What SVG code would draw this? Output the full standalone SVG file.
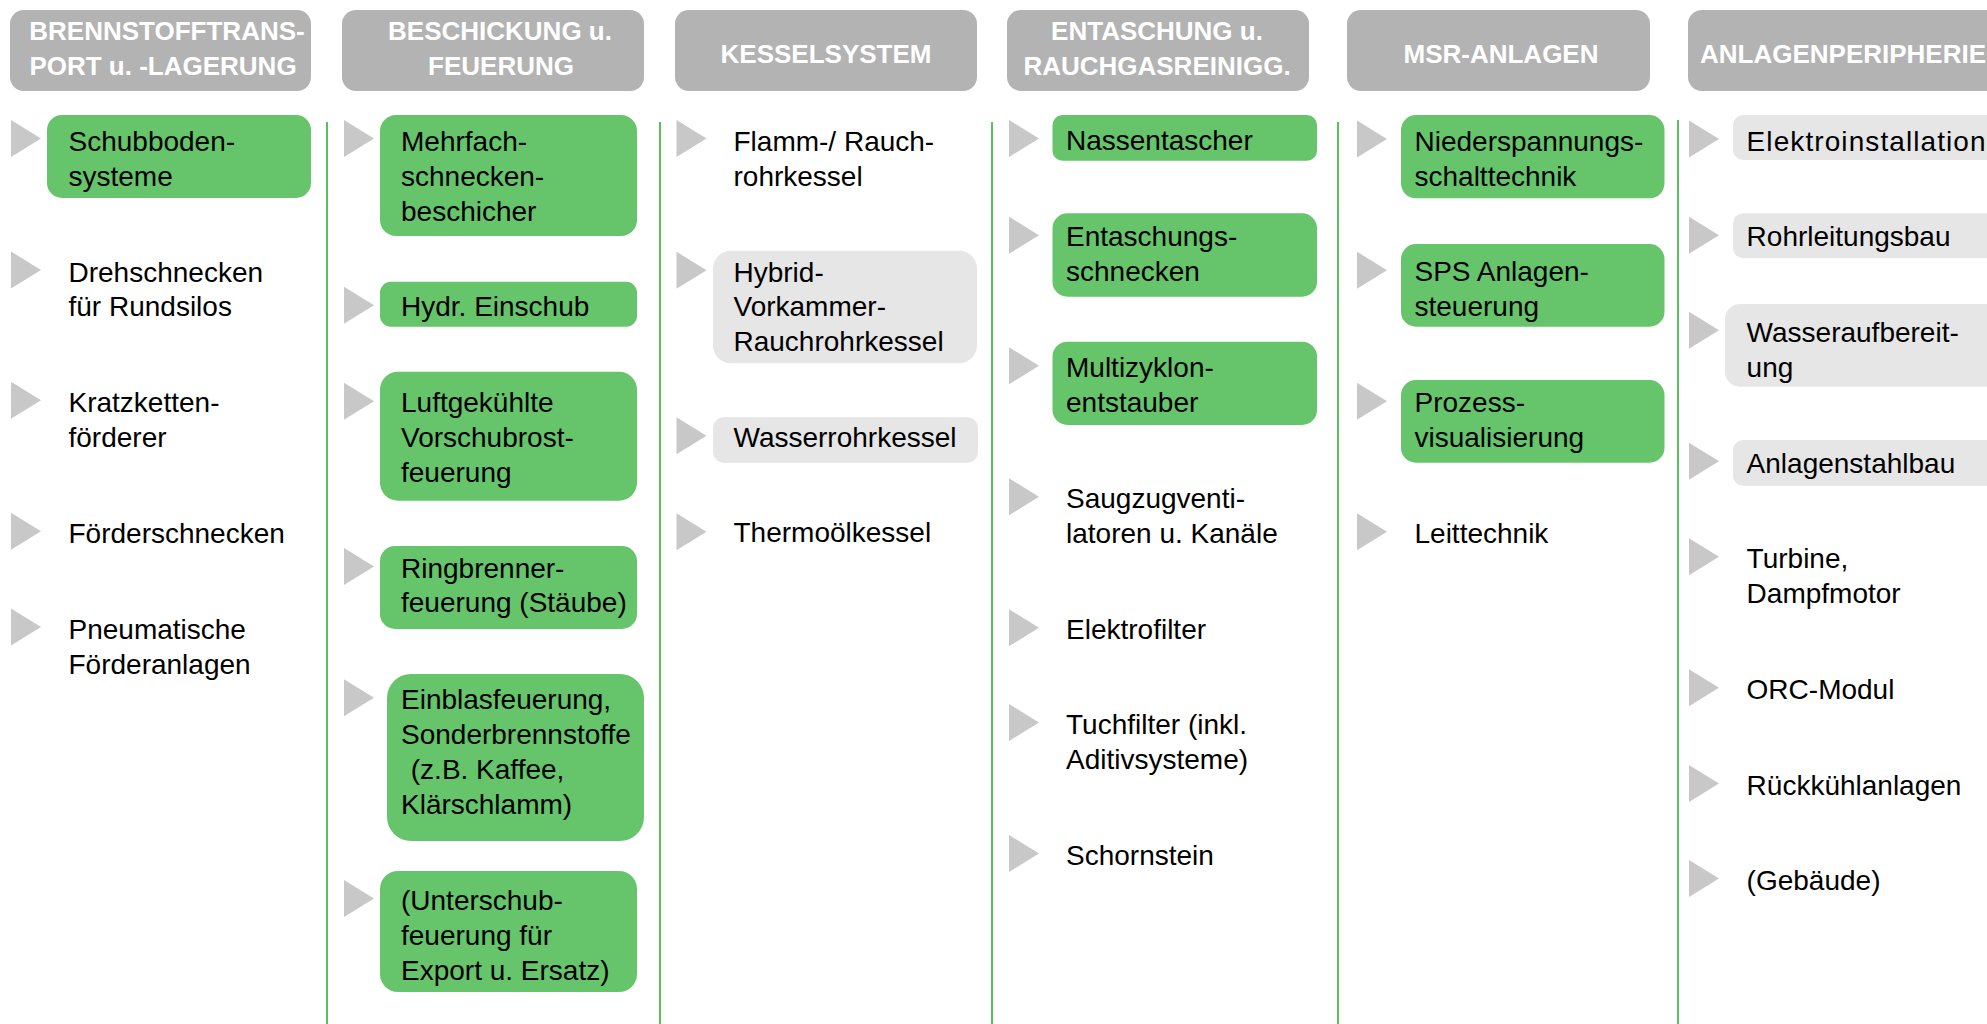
<svg xmlns="http://www.w3.org/2000/svg" xmlns:xlink="http://www.w3.org/1999/xlink" width="1987" height="1024" viewBox="0 0 1987 1024">
<style>
.hdr{fill:#b3b3b3}
.ht{font-family:"Liberation Sans",Arial,sans-serif;font-weight:bold;font-size:26px;fill:#ffffff;text-anchor:middle}
.t{font-family:"Liberation Sans",Arial,sans-serif;font-size:28px;fill:#000000}
.g{fill:#66c46a}
.l{fill:#e6e6e6}
.sep{stroke:#5cbf5c;stroke-width:2;fill:none}
.tri{fill:#c8c8c8}
</style>
<defs>
<path id="tri" class="tri" d="M0,0 L30,18.5 L0,37 Z"/>
</defs>
<rect width="1987" height="1024" fill="#ffffff"/>

<g id="headers">
<g id="h1"><rect class="hdr" x="10" y="10" width="301" height="81" rx="14"/>
<text class="ht"><tspan x="167" y="39.5">BRENNSTOFFTRANS-</tspan><tspan x="163" y="75">PORT u. -LAGERUNG</tspan></text></g>
<g id="h2"><rect class="hdr" x="342" y="10" width="302" height="81" rx="14"/>
<text class="ht"><tspan x="500" y="39.5">BESCHICKUNG u.</tspan><tspan x="501" y="75">FEUERUNG</tspan></text></g>
<g id="h3"><rect class="hdr" x="675" y="10" width="302" height="81" rx="14"/>
<text class="ht" x="826" y="63">KESSELSYSTEM</text></g>
<g id="h4"><rect class="hdr" x="1007" y="10" width="302" height="81" rx="14"/>
<text class="ht"><tspan x="1157" y="39.5">ENTASCHUNG u.</tspan><tspan x="1157" y="75">RAUCHGASREINIGG.</tspan></text></g>
<g id="h5"><rect class="hdr" x="1347" y="10" width="303" height="81" rx="14"/>
<text class="ht" x="1501" y="63">MSR-ANLAGEN</text></g>
<g id="h6"><rect class="hdr" x="1688" y="10" width="320" height="81" rx="14"/>
<text class="ht" x="1700" y="63" style="text-anchor:start">ANLAGENPERIPHERIE</text></g>
</g>

<g id="connectors">
<line class="sep" x1="327" y1="122" x2="327" y2="1024"/>
<line class="sep" x1="660" y1="122" x2="660" y2="1024"/>
<line class="sep" x1="992" y1="122" x2="992" y2="1024"/>
<line class="sep" x1="1338" y1="122" x2="1338" y2="1024"/>
<line class="sep" x1="1678" y1="120" x2="1678" y2="1024"/>
</g>

<!-- Column 1 -->
<g id="c1-schubboden"><use href="#tri" x="11" y="120"/><rect class="g" x="47" y="115" width="264" height="83" rx="15"/>
<text class="t"><tspan x="68.5" y="150.5">Schubboden-</tspan><tspan x="68.5" y="185.5">systeme</tspan></text></g>
<g id="c1-drehschnecken"><use href="#tri" x="11" y="251.5"/>
<text class="t"><tspan x="68.5" y="281.5">Drehschnecken</tspan><tspan x="68.5" y="316">für Rundsilos</tspan></text></g>
<g id="c1-kratzketten"><use href="#tri" x="11" y="381.7"/>
<text class="t"><tspan x="68.5" y="411.7">Kratzketten-</tspan><tspan x="68.5" y="446.7">förderer</tspan></text></g>
<g id="c1-foerderschnecken"><use href="#tri" x="11" y="512.7"/>
<text class="t" x="68.5" y="542.7">Förderschnecken</text></g>
<g id="c1-pneumatische"><use href="#tri" x="11" y="608.5"/>
<text class="t"><tspan x="68.5" y="638.5">Pneumatische</tspan><tspan x="68.5" y="673.5">Förderanlagen</tspan></text></g>

<!-- Column 2 -->
<g id="c2-mehrfach"><use href="#tri" x="344" y="120"/><rect class="g" x="380" y="115" width="257" height="121" rx="16"/>
<text class="t"><tspan x="401" y="150.5">Mehrfach-</tspan><tspan x="401" y="185.5">schnecken-</tspan><tspan x="401" y="220.5">beschicher</tspan></text></g>
<g id="c2-hydr"><use href="#tri" x="344" y="286.7"/><rect class="g" x="380" y="281.7" width="257" height="45" rx="11"/>
<text class="t" x="401" y="315.5">Hydr. Einschub</text></g>
<g id="c2-luft"><use href="#tri" x="344" y="382.7"/><rect class="g" x="380" y="371.7" width="257" height="129" rx="18"/>
<text class="t"><tspan x="401" y="412">Luftgekühlte</tspan><tspan x="401" y="447">Vorschubrost-</tspan><tspan x="401" y="482">feuerung</tspan></text></g>
<g id="c2-ring"><use href="#tri" x="344" y="548"/><rect class="g" x="380" y="546" width="257" height="83" rx="15"/>
<text class="t"><tspan x="401" y="577.5">Ringbrenner-</tspan><tspan x="401" y="612">feuerung (Stäube)</tspan></text></g>
<g id="c2-einblas"><use href="#tri" x="344" y="679.3"/><rect class="g" x="387" y="674" width="257" height="167" rx="24"/>
<text class="t"><tspan x="401" y="708.5">Einblasfeuerung,</tspan><tspan x="401" y="743.5">Sonderbrennstoffe</tspan><tspan x="403" y="778.5"> (z.B. Kaffee,</tspan><tspan x="401" y="813.5">Klärschlamm)</tspan></text></g>
<g id="c2-unterschub"><use href="#tri" x="344" y="880"/><rect class="g" x="380" y="871" width="257" height="121" rx="18"/>
<text class="t"><tspan x="401" y="910">(Unterschub-</tspan><tspan x="401" y="945">feuerung für</tspan><tspan x="401" y="980">Export u. Ersatz)</tspan></text></g>

<!-- Column 3 -->
<g id="c3-flamm"><use href="#tri" x="676.5" y="120"/>
<text class="t"><tspan x="733.5" y="150.5">Flamm-/ Rauch-</tspan><tspan x="733.5" y="185.5">rohrkessel</tspan></text></g>
<g id="c3-hybrid"><use href="#tri" x="676.5" y="251.7"/><rect class="l" x="713" y="250.7" width="264" height="112.6" rx="18"/>
<text class="t"><tspan x="733.5" y="281.5">Hybrid-</tspan><tspan x="733.5" y="316">Vorkammer-</tspan><tspan x="733.5" y="351">Rauchrohrkessel</tspan></text></g>
<g id="c3-wasserrohr"><use href="#tri" x="676.5" y="417.3"/><rect class="l" x="713" y="417.3" width="265" height="45.4" rx="11"/>
<text class="t" x="733.5" y="446.5">Wasserrohrkessel</text></g>
<g id="c3-thermo"><use href="#tri" x="676.5" y="513.3"/>
<text class="t" x="733.5" y="542">Thermoölkessel</text></g>

<!-- Column 4 -->
<g id="c4-nass"><use href="#tri" x="1009" y="120"/><rect class="g" x="1052.5" y="115" width="264.5" height="45.7" rx="10"/>
<text class="t" x="1066" y="150">Nassentascher</text></g>
<g id="c4-entasch"><use href="#tri" x="1009" y="216.7"/><rect class="g" x="1052.5" y="213.3" width="264.5" height="83.4" rx="15"/>
<text class="t"><tspan x="1066" y="246">Entaschungs-</tspan><tspan x="1066" y="281">schnecken</tspan></text></g>
<g id="c4-multi"><use href="#tri" x="1009" y="347.3"/><rect class="g" x="1052.5" y="341.7" width="264.5" height="83.3" rx="15"/>
<text class="t"><tspan x="1066" y="377">Multizyklon-</tspan><tspan x="1066" y="412">entstauber</tspan></text></g>
<g id="c4-saug"><use href="#tri" x="1009" y="478.3"/>
<text class="t"><tspan x="1066" y="508">Saugzugventi-</tspan><tspan x="1066" y="543">latoren u. Kanäle</tspan></text></g>
<g id="c4-elektrofilter"><use href="#tri" x="1009" y="609.3"/>
<text class="t" x="1066" y="639">Elektrofilter</text></g>
<g id="c4-tuch"><use href="#tri" x="1009" y="704"/>
<text class="t"><tspan x="1066" y="734">Tuchfilter (inkl.</tspan><tspan x="1066" y="769">Aditivsysteme)</tspan></text></g>
<g id="c4-schorn"><use href="#tri" x="1009" y="835"/>
<text class="t" x="1066" y="864.5">Schornstein</text></g>

<!-- Column 5 -->
<g id="c5-nieder"><use href="#tri" x="1357" y="120.5"/><rect class="g" x="1401" y="115" width="263.5" height="83.3" rx="15"/>
<text class="t"><tspan x="1414.5" y="150.5">Niederspannungs-</tspan><tspan x="1414.5" y="185.5">schalttechnik</tspan></text></g>
<g id="c5-sps"><use href="#tri" x="1357" y="251.7"/><rect class="g" x="1401" y="244" width="263.5" height="82.7" rx="15"/>
<text class="t"><tspan x="1414.5" y="281">SPS Anlagen-</tspan><tspan x="1414.5" y="316">steuerung</tspan></text></g>
<g id="c5-prozess"><use href="#tri" x="1357" y="382.7"/><rect class="g" x="1401" y="380" width="263.5" height="82.7" rx="15"/>
<text class="t"><tspan x="1414.5" y="412">Prozess-</tspan><tspan x="1414.5" y="447">visualisierung</tspan></text></g>
<g id="c5-leit"><use href="#tri" x="1357" y="513.3"/>
<text class="t" x="1414.5" y="542.7">Leittechnik</text></g>

<!-- Column 6 -->
<g id="c6-elektro"><use href="#tri" x="1689" y="120.5"/><rect class="l" x="1733" y="115" width="280" height="45" rx="10"/>
<text class="t" x="1746.6" y="150.5" textLength="239" lengthAdjust="spacing">Elektroinstallation</text></g>
<g id="c6-rohr"><use href="#tri" x="1689" y="216.7"/><rect class="l" x="1733" y="213.3" width="280" height="45" rx="10"/>
<text class="t" x="1746.6" y="246">Rohrleitungsbau</text></g>
<g id="c6-wasser"><use href="#tri" x="1689" y="311.7"/><rect class="l" x="1725" y="304" width="290" height="82.7" rx="15"/>
<text class="t"><tspan x="1746.6" y="341.7">Wasseraufbereit-</tspan><tspan x="1746.6" y="376.7">ung</tspan></text></g>
<g id="c6-stahl"><use href="#tri" x="1689" y="442.7"/><rect class="l" x="1733" y="440" width="280" height="45.7" rx="10"/>
<text class="t" x="1746.6" y="472.7">Anlagenstahlbau</text></g>
<g id="c6-turbine"><use href="#tri" x="1689" y="538.3"/>
<text class="t"><tspan x="1746.6" y="568">Turbine,</tspan><tspan x="1746.6" y="603.3">Dampfmotor</tspan></text></g>
<g id="c6-orc"><use href="#tri" x="1689" y="669.3"/>
<text class="t" x="1746.6" y="699">ORC-Modul</text></g>
<g id="c6-rueck"><use href="#tri" x="1689" y="765"/>
<text class="t" x="1746.6" y="795">Rückkühlanlagen</text></g>
<g id="c6-gebaeude"><use href="#tri" x="1689" y="860"/>
<text class="t" x="1746.6" y="890">(Gebäude)</text></g>
</svg>
